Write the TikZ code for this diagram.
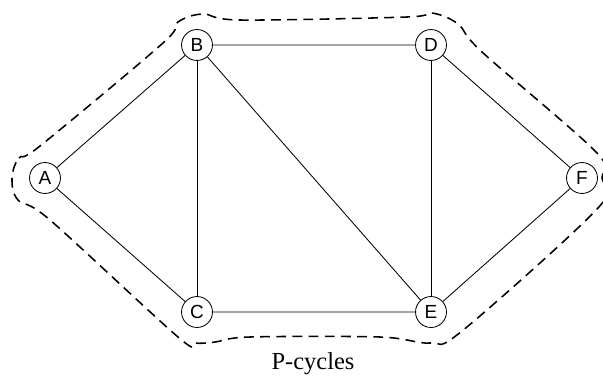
\documentclass[tikz,border=0pt]{standalone}
\usepackage{fontspec}
\setmainfont{Liberation Serif}
\setsansfont{Liberation Sans}
\usepackage{tikz}

\tikzset{
    vertex/.style={circle, draw, line width=0.6pt, minimum size=22pt, inner sep=0pt, font=\sffamily\fontsize{13.5}{13.5}\selectfont},
    link/.style={black, line width=0.6pt},
    pcycle/.style={black, line width=1.1pt, dash pattern=on 7pt off 4.5pt}
}

\begin{document}
\begin{tikzpicture}[x=0.025cm, y=-0.025cm]
        \useasboundingbox (0,0) rectangle (603,376);
        \node[vertex] (A) at (45,178) {A};
        \node[vertex] (B) at (197,45) {B};
        \node[vertex] (C) at (197,312) {C};
        \node[vertex] (D) at (431,45) {D};
        \node[vertex] (E) at (431,312) {E};
        \node[vertex] (F) at (582,178) {F};
        \draw[link] (A) -- (B) -- (D) -- (F) -- (E) -- (C) -- (A);
        \draw[link] (B) -- (C);
        \draw[link] (B) -- (E);
        \draw[link] (D) -- (E);
        % dashed protection cycle
        \draw[pcycle] plot[smooth cycle, tension=0.55] coordinates {
            (12,178) (19,158) (40,146) (163,43) (178,22) (203,14)
            (240,20) (407,17) (432,13) (458,24) (482,52) (596,152)
            (602,178) (598,208) (462,331) (430,343) (380,337) (250,337)
            (215,342) (195,343) (178,337) (50,220) (18,200)};
        \node[font=\fontsize{17.4}{17.4}\selectfont, anchor=base] (label) at (313,369) {P-cycles};
\end{tikzpicture}
\end{document}
